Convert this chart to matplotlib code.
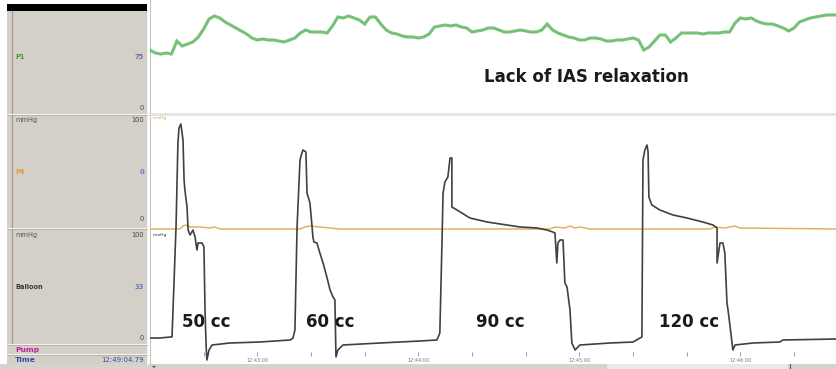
import numpy as np
import matplotlib
matplotlib.use("Agg")
import matplotlib.pyplot as plt
from matplotlib.patches import Rectangle

# ---------------- data ----------------
# P1 channel (mmHg), sampled every 2 s from 12:42:20
p1_step = 2.0
p1_values = [63, 60, 59, 60, 59, 72, 67, 69, 71, 76, 84, 94, 97, 95, 91, 88, 85, 82, 79, 75,
             73, 74, 73, 73, 72, 71, 73, 75, 80, 83, 81, 81, 81, 80, 87, 96, 95, 97, 95, 93,
             89, 96, 96, 89, 83, 80, 79, 77, 76, 76, 75, 76, 79, 86, 87, 88, 87, 88, 86, 85,
             81, 82, 83, 85, 85, 83, 81, 81, 82, 83, 82, 81, 81, 83, 89, 83, 80, 78, 76, 75,
             73, 73, 75, 75, 74, 72, 72, 73, 73, 74, 75, 73, 63, 66, 72, 78, 78, 71, 75, 80,
             80, 80, 80, 79, 80, 80, 80, 81, 81, 90, 95, 94, 95, 92, 90, 89, 89, 87, 85, 82,
             85, 91, 93, 95, 96, 97, 98, 98, 98]

# Balloon channel (mmHg) vs time (s from 12:42:20)
bal_t = [0, 3.7, 7.5, 8.2, 9.7, 10.4, 10.8, 11.5, 12.3, 12.7,
         13.0, 13.8, 14.2, 14.9, 15.6, 16.0, 16.8, 17.1, 17.5, 17.9,
         19.4, 20.1, 20.5, 20.9, 21.2, 22.0, 23.1, 29.8, 41.0, 52.2,
         53.3, 54.0, 54.8, 55.9, 56.6, 57.0, 58.1, 58.5, 59.6, 60.4,
         60.7, 61.1, 62.2, 63.3, 64.5, 65.9, 67.1, 68.2, 68.9, 69.3,
         70.0, 71.9, 85.7, 100.6, 106.9, 108.0, 108.8, 109.2, 109.9, 111.0,
         111.8, 112.5, 112.5, 114.4, 119.2, 125.6, 133.0, 137.9, 144.2, 147.9,
         150.1, 150.9, 151.6, 152.0, 152.8, 153.9, 154.6, 155.4, 156.5, 157.2,
         158.4, 159.1, 160.2, 171.4, 180.0, 182.6, 183.3, 183.7, 184.4, 185.2,
         185.6, 185.9, 187.0, 190.0, 194.9, 200.1, 206.0, 209.8, 211.3, 211.3,
         212.4, 213.5, 214.2, 215.0, 215.4, 216.9, 217.2, 218.0, 224.7, 234.7,
         235.8, 256.0]
bal_p = [0, 0, 1, 1, 111, 195, 210, 214, 198, 158,
         148, 131, 108, 103, 106, 108, 101, 95, 88, 95,
         95, 91, 28, -7, -22, -12, -7, -5, -4, -2,
         0, 8, 111, 178, 185, 188, 186, 145, 135, 111,
         101, 96, 95, 85, 75, 61, 48, 41, 38, -19,
         -12, -7, -5, -3, -2, 5, 95, 145, 156, 161,
         180, 180, 131, 128, 120, 116, 113, 111, 110, 108,
         106, 105, 75, 95, 98, 98, 55, 51, 28, -5,
         -12, -10, -7, -5, -4, 0, 1, 178, 188, 193,
         186, 141, 133, 128, 123, 120, 116, 113, 110, 75,
         95, 95, 85, 35, 28, -5, -12, -7, -5, -4,
         -2, -1]

# P4 channel (mmHg) vs time
p4_t = [0, 11.2, 12.3, 13.4, 14.9, 18.6, 22.4, 24.2, 26.1, 55.9, 57.7, 59.6, 63.3, 67.1,
        70.8, 149.0, 150.9, 154.6, 156.5, 158.4, 160.2, 163.9, 208.6, 210.5, 214.2, 217.9,
        219.8, 256.0]
p4_p = [0, 0, 3, 4, 2, 2, 1, 2, 0, 0, 2, 3, 2, 1,
        0, 0, 2, 1, 3, 1, 2, 0, 0, 2, 1, 3,
        1, 0]

volumes = ["50 cc", "60 cc", "90 cc", "120 cc"]
volume_label_t = [11.8, 58.3, 121.5, 189.5]
time_ticks = [40, 100, 160, 220]
time_labels = ["12:43:00", "12:44:00", "12:45:00", "12:46:00"]

# ---------------- figure ----------------
W, H = 837, 369
fig = plt.figure(figsize=(W / 100, H / 100), dpi=100)
fig.patch.set_facecolor("white")

bg = fig.add_axes([0, 0, 1, 1])
bg.set_xlim(0, W)
bg.set_ylim(H, 0)
bg.axis("off")

panel = "#d4d0c8"
bg.add_patch(Rectangle((7, 10), 141, 355, facecolor=panel, edgecolor="none"))
bg.add_patch(Rectangle((7, 4), 140, 7, facecolor="black", edgecolor="none"))
bg.plot([12, 12], [11, 344], color="#9c988f", lw=0.8)
bg.plot([147.5, 147.5], [11, 365], color="#f2f2f2", lw=0.8)
for yy in [114, 228, 344, 354]:
    bg.plot([7, 147], [yy, yy], color="#f4f4f4", lw=0.8)
    bg.plot([7, 147], [yy + 1, yy + 1], color="#aaa69e", lw=0.5)
# bottom strip and scroll bar
bg.add_patch(Rectangle((0, 364), W, 5, facecolor="#d6d3cd", edgecolor="none"))
bg.add_patch(Rectangle((607, 364), 181, 5, facecolor="#ebe9e5", edgecolor="none"))
bg.plot([790, 790], [364, 369], color="#555555", lw=0.8)
bg.text(152, 366.5, "\u25c2\u25b8", fontsize=3.5, color="#555555", va="center")
# plot frame
bg.plot([150, 150], [0, 364], color="#c4c4c4", lw=0.8)
bg.plot([150, W], [113.5, 113.5], color="#e4e4e4", lw=2.0)

fs = 4.8
def lab(x, y, s, c, ha="left", w="bold", size=fs):
    bg.text(x, y, s, fontsize=size, color=c, ha=ha, va="center", fontweight=w,
            family="DejaVu Sans")

lab(15, 57, "P1", "#3da03d")
lab(144, 57, "75", "#6a6ab4", ha="right")
lab(144, 108, "0", "#444444", ha="right", w="normal")
lab(15, 120, "mmHg", "#555555", w="normal")
lab(144, 120, "100", "#444444", ha="right", w="normal")
lab(15, 172, "P4", "#e8963a")
lab(144, 172, "0", "#7a70c0", ha="right")
lab(144, 219, "0", "#444444", ha="right", w="normal")
lab(15, 235, "mmHg", "#555555", w="normal")
lab(144, 235, "100", "#444444", ha="right", w="normal")
lab(15, 287, "Balloon", "#3a3a3a")
lab(144, 287, "33", "#6a78c4", ha="right")
lab(144, 338, "0", "#444444", ha="right", w="normal")
lab(15, 350, "Pump", "#c0209a", size=5.4)
lab(15, 360, "Time", "#2f4fb0", size=5.4)
lab(144, 360, "12:49:04.79", "#2f4fb0", ha="right", w="normal", size=5.0)
lab(153, 118, "mmHg", "#e8a040", w="normal", size=3.2)
lab(153, 235, "mmHg", "#333333", w="normal", size=3.2)

rect = [150 / W, 0, (W - 150) / W, 1]
tmax = 256.0

# P1 axes: value = 113 - pixel_y
ax1 = fig.add_axes(rect, frameon=False)
ax1.set_xlim(0, tmax)
ax1.set_ylim(113 - H, 113)
ax1.axis("off")
p1_t = np.arange(len(p1_values)) * p1_step
ax1.plot(p1_t, p1_values, color="#66bb66", lw=2.2, alpha=0.9,
         solid_joinstyle="miter")

# P4 axes: value = 229 - pixel_y
ax4 = fig.add_axes(rect, frameon=False)
ax4.set_xlim(0, tmax)
ax4.set_ylim(229 - H, 229)
ax4.axis("off")
ax4.plot(p4_t, p4_p, color="#e6b060", lw=1.1)

# Balloon axes: value = 338 - pixel_y
axb = fig.add_axes(rect, frameon=False)
axb.set_xlim(0, tmax)
axb.set_ylim(338 - H, 338)
axb.axis("off")
axb.plot(bal_t, bal_p, color="#404040", lw=1.2)

for t, s in zip(volume_label_t, volumes):
    axb.text(t, 16, s, fontsize=12, fontweight="bold", color="#1a1a1a",
             ha="left", va="center", family="DejaVu Sans")
ax1.text(124.5, 36, "Lack of IAS relaxation", fontsize=12, fontweight="bold",
         color="#1a1a1a", ha="left", va="center", family="DejaVu Sans")

# time axis
axt = fig.add_axes([150 / W, (H - 354) / H, (W - 150) / W, 0.001], frameon=False)
axt.set_xlim(0, tmax)
axt.set_yticks([])
axt.spines["bottom"].set_visible(True)
axt.spines["bottom"].set_color("#bcbcbc")
axt.spines["bottom"].set_linewidth(0.8)
axt.set_xticks(time_ticks)
axt.set_xticklabels(time_labels)
axt.set_xticks(np.arange(20, 256, 20), minor=True)
axt.tick_params(axis="x", which="both", direction="inout", length=3, width=0.6,
                color="#888888", labelsize=3.6, labelcolor="#777777", pad=1.5)

fig.savefig("out.png", dpi=100, facecolor="white")
